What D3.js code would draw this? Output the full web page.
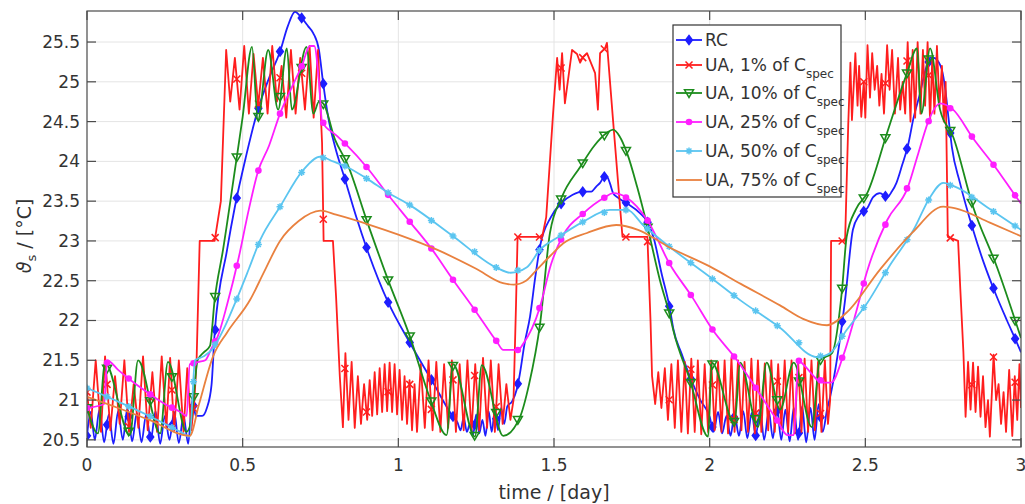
<!DOCTYPE html>
<html lang="en">
<head>
    <meta charset="UTF-8">
    <title>D3: supply temperature, RC vs UA</title>
    <script src="https://d3js.org/d3.v7.min.js"></script>
    <style type="text/css">
        body { margin: 0; background: #fff; }
        text { font-family: "DejaVu Sans", sans-serif; fill: #333; }
    </style>
</head>
<body>
<script type="text/javascript">

//Width and height
var w = 1025;
var h = 504;
var padL = 87, padR = 1021, padT = 11, padB = 447;

//Ticks
var xTicks = [0, 0.5, 1, 1.5, 2, 2.5, 3];
var yTicks = [20.5, 21, 21.5, 22, 22.5, 23, 23.5, 24, 24.5, 25, 25.5];

//Legend text
var legendMain = ["RC", "UA, 1% of C", "UA, 10% of C", "UA, 25% of C", "UA, 50% of C", "UA, 75% of C"];
var legendSub = ["", "spec", "spec", "spec", "spec", "spec"];

//Series: [time in days, temperature in °C]
var rc = [[0,20.55],[0.012,20.85],[0.025,20.5],[0.04,20.88],[0.055,20.47],[0.07,20.82],[0.085,20.45],[0.1,20.86],
    [0.115,20.5],[0.13,20.9],[0.145,20.48],[0.16,20.84],[0.175,20.47],[0.19,20.82],[0.205,20.5],[0.22,20.86],
    [0.235,20.45],[0.25,20.8],[0.265,20.5],[0.28,20.85],[0.295,20.46],[0.31,20.8],[0.325,20.45],[0.338,21.0],
    [0.35,20.8],[0.37,20.8],[0.385,20.9],[0.4,21.19],[0.41,21.84],[0.45,22.89],[0.475,23.43],[0.51,24.05],
    [0.549,24.65],[0.585,25.05],[0.62,25.38],[0.645,25.7],[0.668,25.88],[0.69,25.8],[0.71,25.7],[0.727,25.61],
    [0.745,25.4],[0.758,25.0],[0.775,24.55],[0.797,24.18],[0.829,23.77],[0.865,23.3],[0.9,22.89],[0.967,22.23],
    [1.037,21.72],[1.107,21.25],[1.176,20.79],[1.19,20.72],[1.2,20.62],[1.21,20.78],[1.22,20.6],[1.23,20.7],
    [1.24,20.56],[1.25,20.82],[1.26,20.58],[1.27,20.75],[1.28,20.55],[1.29,20.86],[1.3,20.6],[1.31,20.88],
    [1.32,20.62],[1.33,20.9],[1.34,20.7],[1.35,20.92],[1.365,20.98],[1.38,21.13],[1.39,21.32],[1.405,21.7],
    [1.423,22.05],[1.44,22.55],[1.455,22.93],[1.49,23.3],[1.525,23.48],[1.56,23.58],[1.593,23.62],[1.62,23.62],
    [1.635,23.68],[1.648,23.73],[1.664,23.82],[1.672,23.8],[1.68,23.72],[1.69,23.6],[1.703,23.55],[1.735,23.47],
    [1.776,23.35],[1.8,23.24],[1.82,23.04],[1.845,22.6],[1.873,22.13],[1.883,21.9],[1.91,21.58],[1.937,21.29],
    [1.97,21.0],[2.0,20.79],[2.013,20.6],[2.027,20.85],[2.04,20.58],[2.054,20.8],[2.067,20.55],[2.08,20.82],
    [2.094,20.55],[2.108,20.86],[2.121,20.52],[2.135,20.84],[2.148,20.55],[2.162,20.88],[2.175,20.5],[2.19,20.86],
    [2.203,20.52],[2.216,20.9],[2.23,20.5],[2.243,20.88],[2.257,20.48],[2.27,20.9],[2.284,20.5],[2.297,20.92],
    [2.31,20.47],[2.324,20.9],[2.337,20.5],[2.35,20.95],[2.363,20.6],[2.377,20.88],[2.387,21.04],[2.41,21.54],
    [2.435,22.26],[2.46,23.14],[2.48,23.32],[2.506,23.41],[2.525,23.55],[2.547,23.6],[2.57,23.55],[2.585,23.62],
    [2.6,23.73],[2.618,23.95],[2.637,24.2],[2.655,24.55],[2.676,24.86],[2.69,25.1],[2.708,25.3],[2.72,25.3],
    [2.735,25.25],[2.746,25.15],[2.756,24.93],[2.767,24.55],[2.778,24.18],[2.804,23.73],[2.846,23.14],[2.88,22.73],
    [2.92,22.32],[2.955,22.0],[2.987,21.72],[3.0,21.6]];

var ua1 = [[0,21.1],[0.012,20.65],[0.028,21.5],[0.045,20.6],[0.058,21.55],[0.075,20.62],[0.09,21.3],[0.105,20.7],
    [0.12,21.5],[0.135,20.6],[0.15,21.2],[0.165,20.65],[0.18,21.55],[0.195,20.62],[0.21,21.35],[0.225,20.6],
    [0.24,21.55],[0.255,20.65],[0.267,21.53],[0.28,20.62],[0.295,21.5],[0.31,20.6],[0.322,21.4],[0.335,20.62],
    [0.345,21.0],[0.352,21.5],[0.362,23.0],[0.41,23.0],[0.43,23.5],[0.447,25.4],[0.46,24.75],[0.475,25.3],
    [0.49,24.65],[0.505,25.45],[0.52,24.6],[0.535,25.35],[0.55,24.7],[0.565,25.3],[0.58,24.6],[0.595,25.45],
    [0.61,24.75],[0.625,25.2],[0.64,24.55],[0.655,25.4],[0.67,24.6],[0.685,25.3],[0.7,24.65],[0.715,25.45],
    [0.728,24.55],[0.742,25.4],[0.755,24.23],[0.76,23.0],[0.79,23.0],[0.8,22.3],[0.812,21.3],[0.822,20.66],
    [0.83,21.59],[0.84,20.75],[0.85,21.48],[0.86,20.65],[0.87,21.3],[0.88,20.7],[0.89,21.2],[0.9,20.75],
    [0.908,21.25],[0.916,20.8],[0.924,21.35],[0.932,20.82],[0.94,21.4],[0.948,20.85],[0.956,21.45],[0.964,20.86],
    [0.972,21.47],[0.98,20.85],[0.988,21.45],[0.996,20.82],[1.004,21.38],[1.012,20.75],[1.02,21.3],[1.028,20.7],
    [1.036,21.25],[1.044,20.62],[1.052,21.2],[1.06,20.6],[1.072,21.45],[1.085,20.65],[1.097,21.5],[1.11,20.62],
    [1.122,21.48],[1.135,20.6],[1.147,21.45],[1.16,20.65],[1.172,21.5],[1.185,20.6],[1.197,21.45],[1.21,20.62],
    [1.222,21.5],[1.235,20.6],[1.247,21.45],[1.26,20.62],[1.272,21.53],[1.285,20.65],[1.297,21.5],[1.31,20.6],
    [1.322,21.45],[1.335,20.7],[1.347,21.2],[1.36,20.75],[1.37,21.0],[1.378,22.2],[1.383,23.05],[1.462,23.05],
    [1.475,23.3],[1.497,24.6],[1.51,25.3],[1.518,24.9],[1.526,25.36],[1.535,24.73],[1.558,25.4],[1.574,25.35],
    [1.584,25.24],[1.593,25.31],[1.606,25.36],[1.632,25.11],[1.641,24.65],[1.648,25.36],[1.664,25.42],[1.67,25.49],
    [1.69,24.5],[1.72,23.05],[1.8,23.05],[1.81,22.0],[1.815,21.3],[1.825,20.95],[1.835,21.35],[1.845,20.9],
    [1.856,21.4],[1.866,20.75],[1.877,21.45],[1.888,20.65],[1.898,21.5],[1.909,20.6],[1.92,21.48],[1.93,20.58],
    [1.941,21.52],[1.952,20.6],[1.962,21.5],[1.973,20.57],[1.984,21.45],[1.995,20.6],[2.005,21.5],[2.016,20.62],
    [2.027,21.48],[2.038,20.6],[2.048,21.5],[2.059,20.58],[2.07,21.53],[2.08,20.6],[2.091,21.5],[2.102,20.62],
    [2.112,21.48],[2.123,20.6],[2.134,21.52],[2.145,20.58],[2.155,21.5],[2.166,20.6],[2.177,21.46],[2.188,20.62],
    [2.198,21.5],[2.209,20.6],[2.22,21.45],[2.23,20.64],[2.241,21.5],[2.252,20.6],[2.263,21.5],[2.273,20.58],
    [2.284,21.5],[2.295,20.6],[2.305,21.52],[2.316,20.6],[2.327,21.5],[2.338,20.62],[2.348,21.48],[2.359,20.6],
    [2.37,21.5],[2.38,20.7],[2.387,21.0],[2.39,23.0],[2.435,23.0],[2.445,24.45],[2.452,25.24],[2.457,24.52],
    [2.462,24.9],[2.468,25.36],[2.475,24.7],[2.48,25.2],[2.487,24.56],[2.495,25.0],[2.5,24.55],[2.507,25.46],
    [2.515,24.8],[2.522,25.36],[2.53,24.9],[2.538,25.2],[2.545,24.7],[2.552,25.1],[2.56,24.6],[2.57,25.46],
    [2.578,24.9],[2.586,25.4],[2.595,24.6],[2.605,25.3],[2.612,24.65],[2.62,25.0],[2.628,24.6],[2.636,25.5],
    [2.645,24.5],[2.652,25.4],[2.66,24.55],[2.668,25.5],[2.677,24.6],[2.685,25.4],[2.692,24.7],[2.7,25.5],
    [2.708,24.5],[2.715,25.3],[2.722,24.6],[2.73,25.45],[2.738,24.7],[2.746,25.2],[2.752,24.5],[2.758,25.0],
    [2.765,23.05],[2.798,23.0],[2.805,22.4],[2.815,21.6],[2.822,20.79],[2.83,21.48],[2.838,20.88],[2.846,21.47],
    [2.854,20.85],[2.862,21.42],[2.87,20.79],[2.878,21.3],[2.886,20.66],[2.894,21.0],[2.9,20.54],[2.912,21.57],
    [2.92,21.0],[2.928,21.2],[2.936,20.7],[2.944,21.1],[2.952,20.6],[2.962,21.38],[2.972,20.55],[2.98,21.3],
    [2.988,20.75],[2.995,21.45],[3.0,20.9]];

var ua10 = [[0,20.9],[0.035,20.58],[0.058,21.47],[0.138,20.56],[0.164,21.5],[0.235,20.58],[0.26,21.48],[0.32,20.6],
    [0.335,20.75],[0.345,21.15],[0.355,21.5],[0.375,21.6],[0.395,21.68],[0.41,22.26],[0.437,22.89],[0.475,23.89],
    [0.5,24.56],[0.53,25.44],[0.549,24.52],[0.582,25.4],[0.614,24.65],[0.642,25.42],[0.658,24.65],[0.705,25.44],
    [0.727,24.6],[0.745,24.75],[0.758,24.73],[0.797,24.27],[0.835,23.98],[0.9,23.24],[0.967,22.51],[1.037,21.8],
    [1.1,21.04],[1.155,20.56],[1.176,21.45],[1.246,20.54],[1.268,21.44],[1.337,20.55],[1.39,20.78],[1.42,21.2],
    [1.455,21.95],[1.487,23.1],[1.525,23.55],[1.584,23.93],[1.63,24.2],[1.67,24.36],[1.69,24.4],[1.71,24.32],
    [1.735,24.1],[1.767,23.68],[1.8,23.18],[1.84,22.51],[1.873,22.05],[1.883,21.88],[1.937,21.25],[1.995,20.54],
    [2.007,21.47],[2.08,20.71],[2.098,21.47],[2.155,20.66],[2.183,21.47],[2.226,20.88],[2.27,21.47],[2.328,20.66],
    [2.354,21.5],[2.393,21.59],[2.425,22.38],[2.44,23.05],[2.47,23.4],[2.506,23.6],[2.57,24.36],[2.634,25.11],
    [2.666,25.42],[2.68,24.6],[2.708,25.42],[2.74,24.65],[2.782,24.31],[2.846,23.43],[2.923,22.67],[3.0,21.78]];

var ua25 = [[0,20.9],[0.055,20.95],[0.065,21.5],[0.1,21.38],[0.15,21.22],[0.2,21.08],[0.25,20.95],[0.3,20.85],
    [0.32,20.8],[0.33,21.45],[0.36,21.48],[0.38,21.5],[0.4,21.65],[0.42,21.8],[0.45,22.2],[0.485,22.75],
    [0.52,23.4],[0.549,23.87],[0.585,24.2],[0.62,24.6],[0.66,24.95],[0.69,25.2],[0.716,25.45],[0.73,25.45],
    [0.745,25.0],[0.755,24.5],[0.8,24.33],[0.835,24.2],[0.9,23.92],[0.967,23.58],[1.037,23.24],[1.107,22.9],
    [1.176,22.51],[1.246,22.13],[1.317,21.73],[1.337,21.63],[1.385,21.63],[1.4,21.7],[1.455,22.17],[1.49,22.7],
    [1.525,23.04],[1.595,23.35],[1.664,23.55],[1.69,23.6],[1.735,23.54],[1.8,23.26],[1.873,22.7],[1.943,22.3],
    [2.01,21.88],[2.088,21.5],[2.152,21.13],[2.216,20.75],[2.25,20.56],[2.27,20.56],[2.285,21.5],[2.3,21.45],
    [2.364,21.22],[2.39,21.22],[2.43,21.57],[2.47,22.1],[2.505,22.61],[2.57,23.26],[2.637,23.68],[2.67,24.1],
    [2.708,24.56],[2.74,24.73],[2.782,24.65],[2.846,24.29],[2.917,23.93],[2.987,23.54],[3.0,23.47]];

var ua50 = [[0,21.15],[0.1,20.98],[0.2,20.8],[0.3,20.6],[0.33,20.54],[0.347,21.5],[0.375,21.55],[0.405,21.65],
    [0.44,21.9],[0.48,22.26],[0.52,22.65],[0.556,23.01],[0.62,23.43],[0.694,23.89],[0.749,24.06],[0.79,24.0],
    [0.835,23.93],[0.9,23.78],[0.97,23.6],[1.037,23.45],[1.176,23.06],[1.317,22.66],[1.36,22.6],[1.413,22.67],
    [1.455,22.89],[1.51,23.04],[1.593,23.24],[1.68,23.39],[1.735,23.39],[1.786,23.2],[1.873,22.92],[2.0,22.55],
    [2.1,22.25],[2.226,21.91],[2.345,21.54],[2.387,21.59],[2.44,21.88],[2.506,22.22],[2.58,22.7],[2.655,23.14],
    [2.708,23.55],[2.75,23.73],[2.795,23.67],[2.9,23.4],[3.0,23.14]];

var ua75 = [[0,21.04],[0.1,20.9],[0.2,20.75],[0.33,20.55],[0.36,20.95],[0.405,21.55],[0.45,21.85],[0.524,22.26],
    [0.57,22.62],[0.62,23.0],[0.68,23.25],[0.75,23.38],[0.8,23.33],[0.91,23.2],[1.0,23.08],[1.124,22.89],
    [1.25,22.65],[1.336,22.47],[1.37,22.45],[1.41,22.5],[1.445,22.64],[1.49,22.82],[1.53,22.97],[1.606,23.1],
    [1.7,23.2],[1.77,23.14],[1.87,22.92],[2.0,22.68],[2.1,22.46],[2.226,22.19],[2.3,22.02],[2.377,21.94],
    [2.44,22.1],[2.547,22.64],[2.65,23.1],[2.75,23.43],[2.79,23.41],[2.9,23.23],[3.0,23.06]];

var seriesData = [rc, ua1, ua10, ua25, ua50, ua75];
var colors = ["#1e1eff", "#ff1e1e", "#1c8c1c", "#ff1eff", "#5bc5f0", "#e9813f"];
var markers = ["diamond", "x", "triangle", "circle", "star", "none"];
var markerStep = 1 / 14.4;

//Create scale functions
var xScale = d3.scaleLinear().domain([0, 3]).range([padL, padR]);
var yScale = d3.scaleLinear().domain([20.41, 25.89]).range([padB, padT]);

var svg = d3.select("body")
    .append("svg")
    .attr("width", w)
    .attr("height", h);

svg.append("defs").append("clipPath").attr("id", "plotClip")
    .append("rect")
    .attr("x", padL).attr("y", padT)
    .attr("width", padR - padL).attr("height", padB - padT);

//Grid
svg.append("g").selectAll("line")
    .data(xTicks.slice(1, -1))
    .enter().append("line")
    .attr("x1", function(d) { return xScale(d); })
    .attr("x2", function(d) { return xScale(d); })
    .attr("y1", padT).attr("y2", padB)
    .attr("stroke", "#e4e4e4");
svg.append("g").selectAll("line")
    .data(yTicks)
    .enter().append("line")
    .attr("y1", function(d) { return yScale(d); })
    .attr("y2", function(d) { return yScale(d); })
    .attr("x1", padL).attr("x2", padR)
    .attr("stroke", "#e4e4e4");

//Marker shapes
function markerPath(type, s) {
    if (type === "diamond") return "M0," + (-s) + "L" + (s * 0.75) + ",0L0," + s + "L" + (-s * 0.75) + ",0Z";
    if (type === "x") return "M" + (-s) + "," + (-s) + "L" + s + "," + s + "M" + (-s) + "," + s + "L" + s + "," + (-s);
    if (type === "triangle") return "M" + (-s) + "," + (-s * 0.7) + "L" + s + "," + (-s * 0.7) + "L0," + s + "Z";
    if (type === "star") {
        var a = s * 0.7;
        return "M" + (-s) + ",0L" + s + ",0M0," + (-s) + "L0," + s +
            "M" + (-a) + "," + (-a) + "L" + a + "," + a + "M" + (-a) + "," + a + "L" + a + "," + (-a);
    }
    return "";
}
var markerSize = { diamond: 4.5, x: 3.5, triangle: 4.5, circle: 3.3, star: 3.5 };

function drawMarker(g, type, color, x, y) {
    if (type === "none") return;
    if (type === "circle") {
        g.append("circle").attr("cx", x).attr("cy", y).attr("r", markerSize.circle)
            .attr("fill", color);
        return;
    }
    g.append("path")
        .attr("d", markerPath(type, markerSize[type]))
        .attr("transform", "translate(" + x + "," + y + ")")
        .attr("fill", type === "diamond" ? color : "none")
        .attr("stroke", color)
        .attr("stroke-width", 1.5);
}

//Position of a marker on the drawn line
function valueAt(data, t) {
    var i = d3.bisector(function(d) { return d[0]; }).left(data, t);
    if (i <= 0) return data[0][1];
    if (i >= data.length) return data[data.length - 1][1];
    var a = data[i - 1], b = data[i];
    return a[1] + (b[1] - a[1]) * (t - a[0]) / (b[0] - a[0]);
}

var plot = svg.append("g").attr("clip-path", "url(#plotClip)");

seriesData.forEach(function(data, s) {
    var line = d3.line()
        .x(function(d) { return xScale(d[0]); })
        .y(function(d) { return yScale(d[1]); });
    if (s !== 1) line.curve(d3.curveMonotoneX);

    plot.append("path")
        .datum(data)
        .attr("d", line)
        .attr("fill", "none")
        .attr("stroke", colors[s])
        .attr("stroke-width", 1.8)
        .attr("stroke-linejoin", "round");

    if (markers[s] !== "none") {
        var mg = plot.append("g");
        for (var k = 0; k * markerStep <= 3; k++) {
            var t = Math.max(0, k * markerStep - 0.005);
            drawMarker(mg, markers[s], colors[s], xScale(t), yScale(valueAt(data, t)));
        }
    }
});

//Axes box and ticks
var axisColor = "#4a4a4a";
svg.append("rect")
    .attr("x", padL).attr("y", padT)
    .attr("width", padR - padL).attr("height", padB - padT)
    .attr("fill", "none").attr("stroke", axisColor).attr("stroke-width", 1.2);

var tickLen = 9;
xTicks.forEach(function(d) {
    var x = xScale(d);
    svg.append("line").attr("x1", x).attr("x2", x).attr("y1", padB).attr("y2", padB - tickLen)
        .attr("stroke", axisColor).attr("stroke-width", 1.2);
    svg.append("line").attr("x1", x).attr("x2", x).attr("y1", padT).attr("y2", padT + tickLen)
        .attr("stroke", axisColor).attr("stroke-width", 1.2);
});
yTicks.forEach(function(d) {
    var y = yScale(d);
    svg.append("line").attr("x1", padL).attr("x2", padL + tickLen).attr("y1", y).attr("y2", y)
        .attr("stroke", axisColor).attr("stroke-width", 1.2);
    svg.append("line").attr("x1", padR).attr("x2", padR - tickLen).attr("y1", y).attr("y2", y)
        .attr("stroke", axisColor).attr("stroke-width", 1.2);
});

//Tick labels
svg.append("g").selectAll("text")
    .data(xTicks)
    .enter().append("text")
    .attr("x", function(d) { return xScale(d); })
    .attr("y", 471)
    .attr("text-anchor", "middle")
    .attr("font-size", "17px")
    .text(function(d) { return d; });

svg.append("g").selectAll("text")
    .data(yTicks)
    .enter().append("text")
    .attr("x", 80)
    .attr("y", function(d) { return yScale(d) + 6; })
    .attr("text-anchor", "end")
    .attr("font-size", "17px")
    .text(function(d) { return d; });

//Axis labels
svg.append("text")
    .attr("x", xScale(1.5))
    .attr("y", 499)
    .attr("text-anchor", "middle")
    .attr("font-size", "19px")
    .text("time / [day]");

var yl = svg.append("text")
    .attr("transform", "translate(31,236) rotate(-90)")
    .attr("text-anchor", "middle")
    .attr("font-size", "19px");
yl.append("tspan").attr("font-style", "italic").text("\u03d1");
yl.append("tspan").attr("font-size", "13px").attr("dy", 5).text("s");
yl.append("tspan").attr("dy", -5).text(" / [\u00b0C]");

//Legend
var legX = 673, legY = 25, legW = 168, legH = 172;
var legRows = [40, 65, 93, 122, 151, 180];
var leg = svg.append("g");
leg.append("rect")
    .attr("x", legX).attr("y", legY)
    .attr("width", legW).attr("height", legH)
    .attr("fill", "#fff").attr("stroke", "#333").attr("stroke-width", 1.2);

legendMain.forEach(function(label, i) {
    var y = legRows[i];
    leg.append("line")
        .attr("x1", 676).attr("x2", 702).attr("y1", y).attr("y2", y)
        .attr("stroke", colors[i]).attr("stroke-width", 1.8);
    drawMarker(leg, markers[i], colors[i], 689, y);
    var tx = leg.append("text")
        .attr("x", 705)
        .attr("y", y + 6)
        .attr("font-size", "17px");
    tx.append("tspan").text(label);
    if (legendSub[i]) {
        tx.append("tspan").attr("font-size", "12px").attr("dy", 7).text(legendSub[i]);
    }
});

</script>
</body>
</html>
